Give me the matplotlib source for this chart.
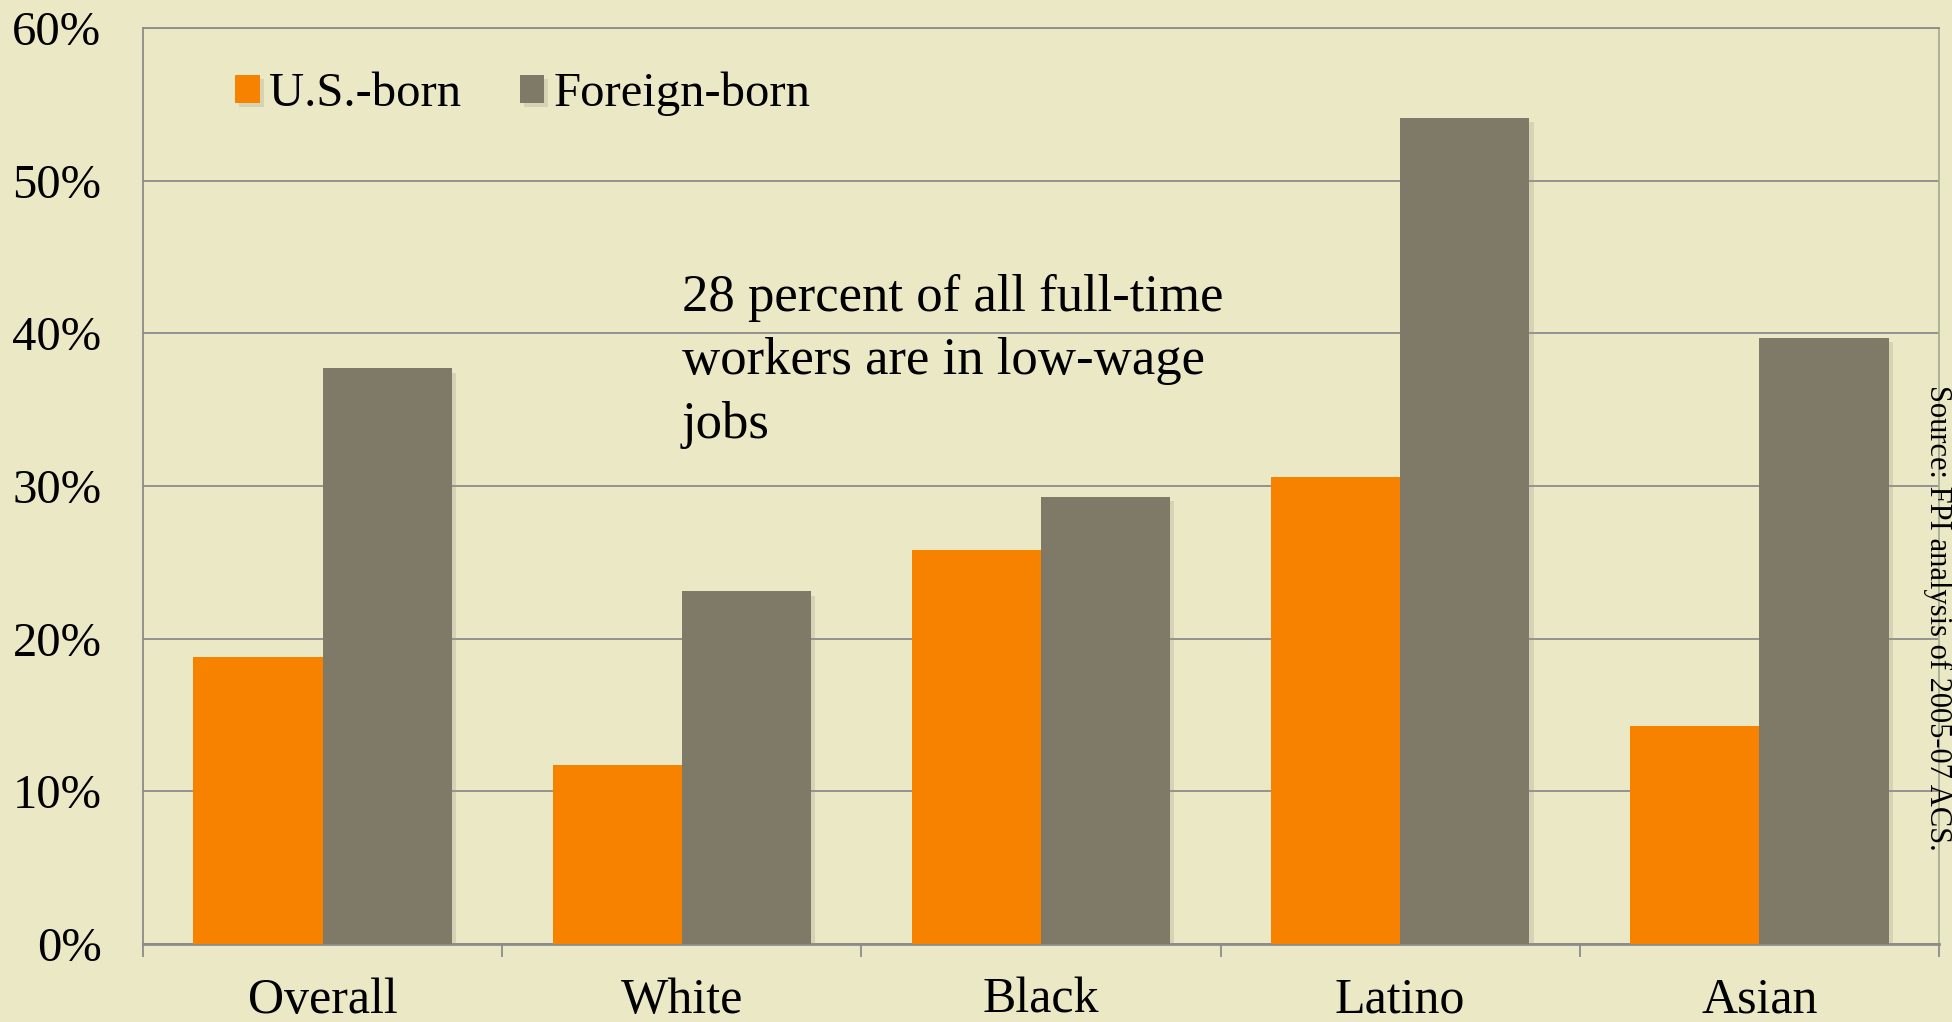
import matplotlib
matplotlib.use('Agg')
import matplotlib.pyplot as plt
import matplotlib.patheffects as pe
import numpy as np

# data (percent)
groups = ['Overall', 'White', 'Black', 'Latino', 'Asian']
us_born = [18.8, 11.7, 25.8, 30.6, 14.3]
foreign_born = [37.7, 23.1, 29.3, 54.1, 39.7]
yticks = [0, 10, 20, 30, 40, 50, 60]

bg = '#EBE8C6'
orange = '#F78200'
gray = '#7F7968'
linec = '#8C8C8C'

plt.rcParams['font.family'] = ['Liberation Serif', 'DejaVu Serif']

fig = plt.figure(figsize=(19.52, 10.22), dpi=100, facecolor=bg)
ax = fig.add_axes([0.0733, 0.0763, 0.92, 0.8963])
ax.set_facecolor(bg)

x = np.arange(len(groups))
w = 0.36
shadow = [pe.SimplePatchShadow(offset=(3, -3), shadow_rgbFace='#9a9880', alpha=0.25), pe.Normal()]
b1 = ax.bar(x - w/2, us_born, w, color=orange, label='U.S.-born', zorder=3)
b2 = ax.bar(x + w/2, foreign_born, w, color=gray, label='Foreign-born', zorder=3)
for b in list(b1) + list(b2):
    b.set_path_effects(shadow)

ax.set_xlim(-0.5, len(groups) - 0.5)
ax.set_ylim(0, 60)
ax.set_yticks(yticks)
ax.set_yticklabels([f'{t}%' for t in yticks], fontsize=35)
ax.yaxis.grid(True, color=linec, linewidth=1.3, zorder=1)
ax.set_axisbelow(True)
ax.tick_params(axis='y', length=0, pad=30)

ax.set_xticks(x)
ax.set_xticklabels(groups, fontsize=36)
ax.set_xticks(np.arange(-0.5, len(groups)), minor=True)
ax.tick_params(axis='x', which='major', length=0, pad=24)
ax.tick_params(axis='x', which='minor', length=9, width=1.3, color=linec, direction='out')

for s in ['left', 'bottom', 'top']:
    ax.spines[s].set_color(linec)
    ax.spines[s].set_linewidth(1.3)
ax.spines['bottom'].set_linewidth(2)
ax.spines['right'].set_color('#A7AE90')
ax.spines['right'].set_linewidth(1.3)

leg = ax.legend(loc='upper left', bbox_to_anchor=(0.027, 1.0), ncol=2, frameon=False,
                fontsize=35, handlelength=0.5, handleheight=0.5, handletextpad=0.2,
                columnspacing=1.2)

ax.text(1.0, 43.9, '28 percent of all full-time\nworkers are in low-wage\njobs',
        fontsize=38, va='top', ha='left', linespacing=1.42)

fig.text(0.9925, 0.395, 'Source: FPI analysis of 2005-07 ACS.', rotation=270,
         fontsize=22, ha='center', va='center')

fig.savefig('out.png', dpi=100, facecolor=bg)
